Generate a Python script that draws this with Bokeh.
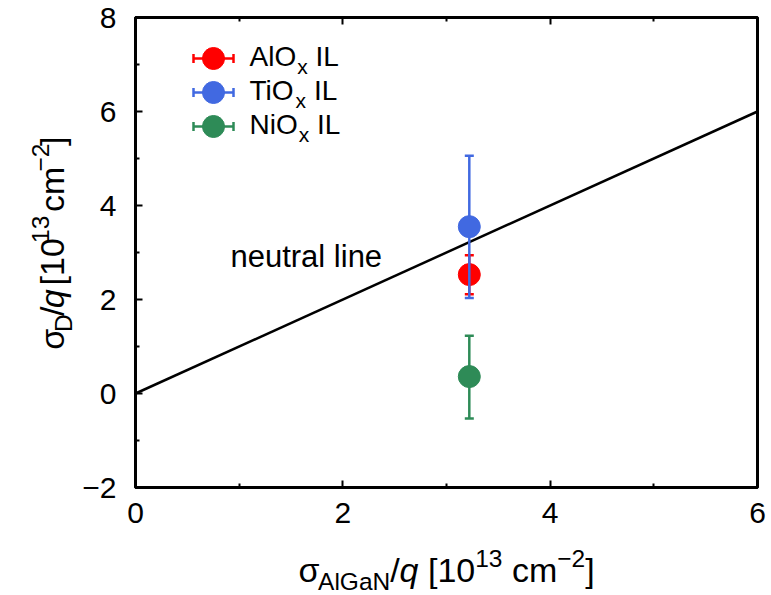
import math
from bokeh.plotting import figure
from bokeh.layouts import column, row
from bokeh.models import Range1d, LinearAxis, FixedTicker, Label
from bokeh.embed import file_html
from bokeh.resources import INLINE

# ---------------- data ----------------
materials = ["Al", "Ti", "Ni"]            # legend: <m>O_x IL
colors = ["#ff0000", "#4169e1", "#2e8b57"]
sigma_algan = [3.22, 3.22, 3.22]
sigma_d = [2.53, 3.55, 0.36]
err_lo = [2.11, 2.03, -0.53]
err_hi = [2.94, 5.06, 1.23]
neutral_x = [0, 6]
neutral_y = [0, 6]
x_ticks = [0, 2, 4, 6]
x_minor = [1, 3, 5]
y_ticks = [-2, 0, 2, 4, 6, 8]
y_minor = [-1, 1, 3, 5, 7]
X0, X1, Y0, Y1 = 0, 6, -2, 8

# ---------------- layout ----------------
FONT = "Liberation Sans"
W, H = 771, 595
YLAB_W = 76            # strip holding the y-axis title
XLAB_H = 56            # strip holding the x-axis title
PW, PH = W - YLAB_W, H - XLAB_H
ML, MR, MT, MB = 135 - YLAB_W, 14, 17, (H - XLAB_H) - 487
FW, FH = PW - ML - MR, PH - MT - MB
MID = 0.35             # text box centre above the baseline, in em

p = figure(width=PW, height=PH, output_backend="svg", toolbar_location=None,
           x_range=Range1d(X0, X1), y_range=Range1d(Y0, Y1), title=None,
           min_border_left=ML, min_border_right=MR, min_border_top=MT,
           min_border_bottom=MB)
p.grid.visible = False
p.outline_line_color = "black"
p.outline_line_width = 3
p.background_fill_color = "white"
p.border_fill_color = "white"

def style_axis(ax, ticks, minor, labels=True, standoff=12):
    ax.ticker = FixedTicker(ticks=ticks, minor_ticks=minor)
    ax.axis_line_width = 3
    ax.axis_line_color = "black"
    ax.major_tick_in = 7
    ax.major_tick_out = 0
    ax.minor_tick_in = 4
    ax.minor_tick_out = 0
    ax.major_tick_line_width = 2
    ax.minor_tick_line_width = 2
    ax.major_tick_line_color = "black"
    ax.minor_tick_line_color = "black"
    ax.major_label_text_font = FONT
    ax.major_label_text_font_size = "30px"
    ax.major_label_text_color = "black"
    if labels:
        ax.major_label_standoff = standoff
        ax.major_label_overrides = {t: str(t).replace("-", "−") for t in ticks}
    else:
        ax.major_label_standoff = 0
        ax.major_label_text_alpha = 0
        ax.major_label_overrides = {t: " " for t in ticks}

style_axis(p.xaxis[0], x_ticks, x_minor, standoff=15)
style_axis(p.yaxis[0], y_ticks, y_minor, standoff=19)
top = LinearAxis()
style_axis(top, x_ticks, x_minor, labels=False)
p.add_layout(top, "above")

# neutral line
p.line(neutral_x, neutral_y, line_color="black", line_width=2.5)

# pixel -> data helpers (for legend / label placement only)
def px_x(px):          # px from frame left
    return X0 + px * (X1 - X0) / FW

def px_y(py):          # px from frame top
    return Y1 - py * (Y1 - Y0) / FH

WID = {"σ": 0.578, "A": 0.667, "l": 0.222, "G": 0.778, "a": 0.556, "N": 0.722,
       "D": 0.722, "/": 0.278, "q": 0.556, " ": 0.278, "[": 0.278, "]": 0.278,
       "1": 0.556, "0": 0.556, "3": 0.556, "c": 0.5, "m": 0.833, "−": 0.584,
       "2": 0.556, "T": 0.611, "i": 0.222, "O": 0.778, "x": 0.5, "I": 0.278,
       "L": 0.556}

def tw(s, size):
    return sum(WID.get(ch, 0.556) for ch in s) * size

def add_text(fig, text, size, x, y, style="normal", angle=0.0, align="left"):
    fig.add_layout(Label(x=x, y=y, text=text, angle=angle, text_font=FONT,
                         text_font_size=f"{size:.1f}px", text_font_style=style,
                         text_align=align, text_baseline="middle",
                         text_color="black"))

def main_text(text, size, fx, fy_base):
    # fx: px from frame left, fy_base: baseline px from frame top
    add_text(p, text, size, px_x(fx), px_y(fy_base - MID * size))

# data: error bars + points
for i in range(len(materials)):
    xs = [sigma_algan[i]]
    p.segment(x0=xs, y0=[err_lo[i]], x1=xs, y1=[err_hi[i]],
              line_color=colors[i], line_width=2.5)
    p.scatter(x=xs * 2, y=[err_lo[i], err_hi[i]], marker="dash", size=9,
              line_color=colors[i], line_width=2.5)
    p.scatter(x=xs, y=[sigma_d[i]], marker="circle", size=22,
              fill_color=colors[i], line_color=colors[i])

# ---------------- legend (drawn by hand) ----------------
LEG_CX, LEG_ROW0, LEG_DY, LEG_HALF = 78, 41, 34, 20
LEG_TX, LEG_BASE = 114, 8
LS = 28
LSUB = 21
for i, m in enumerate(materials):
    cy = LEG_ROW0 + i * LEG_DY
    yd = px_y(cy)
    p.segment(x0=[px_x(LEG_CX - LEG_HALF)], y0=[yd], x1=[px_x(LEG_CX + LEG_HALF)],
              y1=[yd], line_color=colors[i], line_width=2.5)
    p.scatter(x=[px_x(LEG_CX - LEG_HALF), px_x(LEG_CX + LEG_HALF)], y=[yd, yd],
              marker="dash", angle=math.pi / 2, size=9, line_color=colors[i],
              line_width=2.5)
    p.scatter(x=[px_x(LEG_CX)], y=[yd], marker="circle", size=22,
              fill_color=colors[i], line_color=colors[i])
    t1 = f"{m}O"
    x1 = LEG_TX + tw(t1, LS) + 1
    x2 = x1 + tw("x", LSUB) + tw(" ", LS)
    main_text(t1, LS, LEG_TX, cy + LEG_BASE)
    main_text("x", LSUB, x1, cy + LEG_BASE + 7)
    main_text("IL", LS, x2, cy + LEG_BASE)

# "neutral line" annotation: starts at x=0.916, baseline at y=2.68 (data)
NL_SIZE = 31
p.add_layout(Label(x=0.916, y=2.68 + MID * NL_SIZE * (Y1 - Y0) / FH,
                   text="neutral line", text_font=FONT,
                   text_font_size=f"{NL_SIZE}px", text_color="black",
                   text_baseline="middle", text_align="left"))

# ---------------- composed axis titles (own strips) ----------------
S = 34
R = 0.72
SUB = 0.25 * S
SUP = 0.42 * S
SP = None  # marker for a plain space advance

def runs_for(sub):
    return [("σ", S, 0, "normal"), (sub, S * R, -SUB, "normal"),
            ("/", S, 0, "normal"), ("q", S, 0, "italic"), (SP, S, 0, ""),
            ("[10", S, 0, "normal"), ("13", S * R, SUP, "normal"), (SP, S, 0, ""),
            ("cm", S, 0, "normal"), ("−2", S * R, SUP, "normal"),
            ("]", S, 0, "normal")]

def run_len(runs):
    return sum(tw(" " if t is None else t, s) for t, s, _, _ in runs)

def strip(w, h):
    f = figure(width=w, height=h, output_backend="svg", toolbar_location=None,
               x_range=Range1d(0, w), y_range=Range1d(0, h), title=None,
               x_axis_location=None, y_axis_location=None, min_border=0)
    f.grid.visible = False
    f.outline_line_color = None
    f.background_fill_color = "white"
    f.border_fill_color = "white"
    return f

def place(fig, runs, x0, y0, vertical):
    # x0, y0: start of the baseline (strip px, y up)
    pos = 0.0
    for text, size, shift, style in runs:
        w = tw(" " if text is None else text, size)
        if text is not None:
            if vertical:
                add_text(fig, text, size, x0 - shift - MID * size, y0 + pos + w / 2,
                         style, math.pi / 2, "center")
            else:
                add_text(fig, text, size, x0 + pos, y0 + shift + MID * size, style)
        pos += w

# x title: centred under the frame, baseline 581 px from page top
xfig = strip(W, XLAB_H)
xr = runs_for("AlGaN")
frame_cx = 135 + FW / 2
place(xfig, xr, frame_cx - run_len(xr) / 2, H - 581, False)

# y title: baseline 63 px from page left, centred 258 px from page top
yfig = strip(YLAB_W, PH)
yr = runs_for("D")
place(yfig, yr, 63, (PH - 258) - run_len(yr) / 2, True)

layout = column(row(yfig, p, spacing=0), xfig, spacing=0)
open("out.html", "w").write(file_html(layout, INLINE))
